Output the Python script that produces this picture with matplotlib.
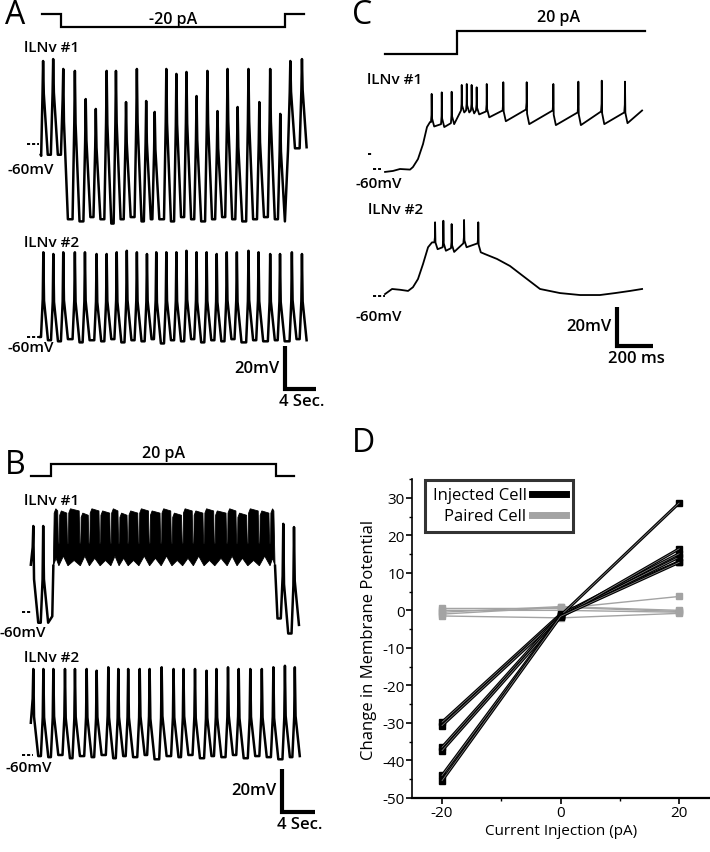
# -*- coding: utf-8 -*-
"""
Registros pareados de lLNv (A-C) y cambio de potencial vs corriente inyectada (D).
"""
import numpy as np
import matplotlib
matplotlib.use("Agg")
import matplotlib.pyplot as plt
from matplotlib.lines import Line2D
from matplotlib.ticker import MultipleLocator, FixedLocator

W, H = 710, 853
plt.rcParams['font.family'] = ['Open Sans', 'DejaVu Sans']
plt.rcParams['axes.unicode_minus'] = False

# ==============================================================================
# DATOS (s o ms, mV, pA)
# ==============================================================================
# --- A: pulso de -20 pA (s) ---
A_step_t = [0.26, 2.7, 31.6, 34.1]          # inicio, on, off, fin
A_step_amp = -20
A1_spk = [0.4, 1.7, 3.0, 4.5, 5.9, 7.2, 8.6, 9.8, 11.1, 12.5, 13.7, 14.8, 16.3,
          17.6, 18.9, 20.2, 21.6, 22.9, 24.2, 25.5, 26.9, 28.3, 29.7, 31.0, 32.3, 33.8]
A1_peak = [-21.4, -20.5, -25.1, -26.0, -39.1, -43.7, -26.0, -26.0, -40.5, -25.1,
           -40.0, -45.1, -25.1, -27.4, -26.5, -37.7, -26.0, -44.7, -25.1, -42.8,
           -25.1, -40.5, -25.1, -46.0, -21.4, -20.5]
A1_pre = [-65, -65, -65, -95, -96, -94, -95, -97, -95, -94, -96, -95, -95, -96,
          -94, -95, -96, -95, -94, -95, -96, -95, -94, -95, -63, -62]
A1_post = [-65, -65, -95, -96, -94, -95, -97, -95, -94, -96, -95, -95, -96, -94,
           -95, -96, -95, -94, -95, -96, -95, -94, -95, -96, -62, -61.5]

A2_spk = [0.43, 1.72, 3.0, 4.5, 5.8, 7.3, 8.6, 9.9, 11.2, 12.5, 13.8, 15.0, 16.3,
          17.6, 18.9, 20.2, 21.5, 22.8, 24.1, 25.4, 26.9, 28.2, 29.7, 30.97, 32.5, 33.8]
A2_peak = [-20.6, -21.4, -20.6, -20.6, -20.6, -21.4, -21.4, -20.6, -19.9, -20.6,
           -21.4, -20.6, -20.6, -20.6, -19.9, -20.6, -20.6, -21.4, -20.6, -20.6,
           -19.9, -20.6, -21.4, -21.4, -20.6, -21.4]
A2_trough = [-60, -61.5, -62, -61, -62.5, -61.5, -62, -61, -62.5, -61.5, -62, -61,
             -63, -61.5, -62, -61, -62.5, -61.5, -62, -61, -62.5, -61.5, -62,
             -61.5, -62, -61, -61.5]

# --- B: pulso de 20 pA (s) ---
B_step_t = [0.12, 2.55, 29.8, 32.0]
B_step_amp = 20
B1_spk_pre = [0.4, 1.6]
B1_peak_pre = [-20, -20]
B1_trough_pre = [-38, -65, -65]
B1_burst_on, B1_burst_off = 2.83, 29.7
B1_gaps = [3.5, 4.6, 6.1, 7.2, 8.5, 9.8, 10.8, 11.9, 13.2, 14.5, 15.9, 17.2,
           18.5, 19.8, 21.1, 22.4, 23.9, 25.1, 26.4, 27.8, 29.1]
B1_top = [-12, -13, -12, -14, -12, -13, -12, -14, -13, -12, -13, -12, -14, -12,
          -13, -12, -13, -12, -14, -12, -13, -12]
B1_floor = [-35, -34, -36, -34, -35, -36, -34, -35, -36, -34, -35, -34, -36, -35,
            -34, -36, -35, -34, -35, -36, -34, -35]
B1_spk_post = [30.7, 32.0]
B1_peak_post = [-19, -20.5]
B1_trough_post = [-63, -70, -66]

B2_spk = [0.4, 1.62, 2.83, 4.24, 5.45, 6.87, 8.08, 9.49, 10.7, 11.9, 13.3, 14.5,
          15.96, 17.4, 18.6, 20.0, 21.4, 22.6, 24.0, 25.3, 26.7, 28.1, 29.5, 30.9, 32.1]
B2_peak = [-20, -20, -20, -20, -20, -20, -20.8, -19.2, -20, -20, -20, -20, -19.2,
           -20, -20, -20, -20.8, -20, -19.2, -20, -20, -20, -19.2, -18.5, -19.2]
B2_trough = [-45, -60.5, -61, -60, -61.5, -60.5, -61, -60, -61.5, -60.5, -61, -60,
             -62, -60.5, -61, -60, -61.5, -60.5, -61, -60, -61.5, -60.5, -61, -62,
             -61, -60.5]

# --- C: pulso de 20 pA (ms) ---
C_step_t = [28, 428, 1472]
C_step_amp = 20
C1_ramp_t = [28, 72, 111, 167, 183, 211, 239, 261, 278]
C1_ramp_v = [-61.5, -61.0, -60.0, -60.3, -59.0, -54.9, -47.2, -38.5, -35.9]
C1_spk = [287, 343, 398, 454, 482, 509, 537, 593, 685, 815, 963, 1102, 1232, 1361]
C1_peak = [-21.5, -20.7, -20.4, -16.9, -16.4, -16.9, -18.1, -16.4, -15.5, -15.5,
           -16.4, -15.2, -14.7, -15.2]
C1_pre = [-36, -37, -36.5, -30, -30, -30, -30, -30.5, -30, -29.5, -30, -31, -30.5, -31]
C1_post = [-38.2, -38.5, -37, -31, -31, -31.5, -32, -33.5, -35.5, -37, -37.5,
           -37.5, -37, -36.5]
C1_end = ([1456], [-30])

C2_ramp_t = [28, 67, 111, 156, 183, 211, 239, 267, 289]
C2_ramp_v = [-59, -56.4, -56.8, -57.4, -55.5, -51.3, -43.6, -35.0, -32.5]
C2_spk = [306, 352, 398, 467, 546]
C2_peak = [-22.2, -21.4, -23.1, -21, -22.2]
C2_pre = [-32.5, -35, -35.5, -33, -33]
C2_post = [-36, -36.8, -37.4, -35, -37.6]
C2_tail_t = [583, 650, 722, 794, 889, 1000, 1111, 1222, 1306, 1389, 1456]
C2_tail_v = [-38.5, -41, -44.6, -49.7, -56.4, -58.5, -59.5, -59.5, -58.5, -57.4, -56.4]

# --- D: cambio de potencial (mV) a -20, 0 y 20 pA ---
D_current = [-20, 0, 20]
inj_m20 = [-29.8, -30.7, -36.5, -37.4, -44.0, -45.4]
inj_0 = [-1.0, -1.5, -1.2, -1.8, -1.4, -1.6]
inj_p20 = [13.0, 14.2, 15.1, 16.4, 28.6, 12.8]
par_m20 = [0.5, -0.5, -1.5, 0.0, -1.0]
par_0 = [0.5, 1.0, -2.0, 0.0, 0.8]
par_p20 = [3.7, 0.0, -0.8, -0.5, -0.3]

GRIS = '#a3a3a3'
TXT = dict(fontsize=11, fontweight='semibold')


# ==============================================================================
# FUNCIONES AUXILIARES
# ==============================================================================
fig = plt.figure(figsize=(W / 100, H / 100), dpi=100)


def px_axes(box, x_org, y_org, sx, sy, y_val=0.0):
    """Ejes invisibles colocados en pixeles; (x_org, y_org) corresponde a (0, y_val)."""
    x0, y0, x1, y1 = box
    ax = fig.add_axes([x0 / W, 1 - y1 / H, (x1 - x0) / W, (y1 - y0) / H])
    ax.set_xlim((x0 - x_org) / sx, (x1 - x_org) / sx)
    ax.set_ylim(y_val - (y1 - y_org) / sy, y_val + (y_org - y0) / sy)
    ax.axis('off')
    return ax


def ftext(x, y, s, **kw):
    fig.text(x / W, 1 - y / H, s, **kw)


def spikes(ts, peak, pre, post, rise, fall, sh):
    t, v = [], []
    for s, p, a, b in zip(ts, peak, pre, post):
        t += [s - rise, s - 0.25 * rise, s, s + 0.15 * fall, s + fall]
        v += [a, a + sh * (p - a), p, b + sh * (p - b), b]
    return t, v


def join(*parts):
    t = np.concatenate([np.asarray(p[0], float) for p in parts])
    v = np.concatenate([np.asarray(p[1], float) for p in parts])
    o = np.argsort(t, kind='stable')
    return t[o], v[o]


def step_line(ax, times, amp, label, off):
    t = [times[0], times[1], times[1]]
    i = [0, 0, amp]
    if len(times) == 4:
        t += [times[2], times[2], times[3]]
        i += [amp, 0, 0]
        mid = (times[1] + times[2]) / 2
    else:
        t += [times[2]]
        i += [amp]
        mid = (times[1] + times[2]) / 2 + 40
    ax.plot(t, i, color='k', lw=1.6, solid_joinstyle='miter', clip_on=False)
    ax.annotate(label, (mid, amp), xytext=(0, off), textcoords='offset points',
                ha='center', va='baseline', fontsize=11.5, fontweight='semibold')


def dashes(ax, t0, t1, v=-60):
    ax.plot([t0, t1], [v, v], color='k', lw=1.4, dashes=(1.6, 1.0), clip_on=False)


def scalebar(ax, t0, v0, dt, dv, xl, yl):
    ax.plot([t0, t0, t0 + dt], [v0 + dv, v0, v0], color='k', lw=3,
            solid_joinstyle='miter', solid_capstyle='butt', clip_on=False)
    ax.annotate(yl, (t0, v0 + dv / 2), xytext=(-4, 0), textcoords='offset points',
                ha='right', va='center', fontsize=12, fontweight='semibold')
    ax.annotate(xl, (t0 + dt / 2, v0), xytext=(1, -3), textcoords='offset points',
                ha='center', va='top', fontsize=12, fontweight='semibold')


def trace(ax, t, v, lw=1.8):
    ax.plot(t, v, color='k', lw=lw, solid_joinstyle='round', clip_on=False)


# ==============================================================================
# PANEL A
# ==============================================================================
axAi = px_axes((0, 0, 330, 45), 40, 15, 7.75, 0.65)
step_line(axAi, A_step_t, A_step_amp, '-20 pA', 3)

axA1 = px_axes((0, 40, 330, 235), 40, 145, 7.75, 2.15, -60)
trace(axA1, *join(([0.15], [-65.5]),
                  spikes(A1_spk, A1_peak, A1_pre, A1_post, 0.3, 0.6, 0.65)))
dashes(axA1, -1.7, -0.15)

axA2 = px_axes((0, 235, 330, 420), 40, 338, 7.75, 2.15, -60)
trace(axA2, *join(([0.0], [-60]),
                  spikes(A2_spk, A2_peak, A2_trough[:-1], A2_trough[1:], 0.3, 0.6, 0.45)))
dashes(axA2, -1.7, 0.0)
scalebar(axA2, 31.6, -84.2, 4, 20, '4 Sec.', '20mV')

ftext(5, 16, 'A', fontsize=23, va='center')
ftext(24, 48, 'lLNv #1', va='center', **TXT)
ftext(7, 170, '-60mV', va='center', **TXT)
ftext(24, 243, 'lLNv #2', va='center', **TXT)
ftext(7, 348, '-60mV', va='center', **TXT)

# ==============================================================================
# PANEL B
# ==============================================================================
axBi = px_axes((0, 440, 330, 485), 30, 477, 8.25, 0.6)
step_line(axBi, B_step_t, B_step_amp, '20 pA', 5)

axB1 = px_axes((0, 485, 330, 645), 30, 613, 8.25, 2.15, -60)
trace(axB1, *join(spikes(B1_spk_pre, B1_peak_pre, B1_trough_pre[:-1], B1_trough_pre[1:],
                         0.3, 0.6, 0.45),
                  ([2.7, B1_burst_on], [-62, -38.5])))
trace(axB1, *join(([B1_burst_off, 30.0], [-38.5, -63]),
                  spikes(B1_spk_post, B1_peak_post, B1_trough_post[:-1], B1_trough_post[1:],
                         0.3, 0.6, 0.45)))
# rafagas: banda densa de espigas entre los intervalos
edges = [B1_burst_on] + B1_gaps + [B1_burst_off]
tt, vt, tb, vb = [], [], [], []
for k in range(len(edges) - 1):
    a, b = edges[k], edges[k + 1]
    tt += [a + 0.1, a + 0.3, b - 0.14]
    vt += [B1_top[k] - 2, B1_top[k], B1_top[k] - 1]
    if k < len(edges) - 2:
        tt += [b - 0.06, b + 0.06]
        vt += [-28, -28]
    tb += [a, (a + b) / 2]
    vb += [-38.5, B1_floor[k]]
tb += [edges[-1]]
vb += [-38.5]
axB1.fill(tt + tb[::-1], vt + vb[::-1], color='k', lw=0.6, clip_on=False)
dashes(axB1, -0.97, 0.2)

axB2 = px_axes((0, 645, 330, 853), 30, 756, 8.25, 2.15, -60)
trace(axB2, *spikes(B2_spk, B2_peak, B2_trough[:-1], B2_trough[1:], 0.3, 0.6, 0.45))
dashes(axB2, -0.97, 0.4)
scalebar(axB2, 30.5, -86.5, 4, 20, '4 Sec.', '20mV')

ftext(5, 466, 'B', fontsize=23, va='center')
ftext(24, 501, 'lLNv #1', va='center', **TXT)
ftext(0, 633, '-60mV', va='center', **TXT)
ftext(24, 658, 'lLNv #2', va='center', **TXT)
ftext(5, 768, '-60mV', va='center', **TXT)

# ==============================================================================
# PANEL C
# ==============================================================================
axCi = px_axes((340, 0, 710, 60), 380, 55, 0.18, 1.15)
step_line(axCi, C_step_t, C_step_amp, '20 pA', 7)

axC1 = px_axes((340, 60, 710, 200), 380, 170, 0.18, 1.95, -60)
trace(axC1, *join((C1_ramp_t, C1_ramp_v),
                  spikes(C1_spk, C1_peak, C1_pre, C1_post, 4, 14, 0.25), C1_end), lw=1.3)
dashes(axC1, -67, -45, -52.3)
dashes(axC1, -39, 5)

axC2 = px_axes((340, 200, 710, 420), 380, 297, 0.18, 1.95, -60)
trace(axC2, *join((C2_ramp_t, C2_ramp_v),
                  spikes(C2_spk, C2_peak, C2_pre, C2_post, 4, 14, 0.25),
                  (C2_tail_t, C2_tail_v)), lw=1.3)
dashes(axC2, -39, 25)
scalebar(axC2, 1317, -85.6, 200, 20, '200 ms', '20mV')

ftext(352, 16, 'C', fontsize=23, va='center')
ftext(367, 80, 'lLNv #1', va='center', **TXT)
ftext(355, 184, '-60mV', va='center', **TXT)
ftext(368, 210, 'lLNv #2', va='center', **TXT)
ftext(355, 317, '-60mV', va='center', **TXT)

# ==============================================================================
# PANEL D
# ==============================================================================
axD = fig.add_axes([412 / W, 1 - 799 / H, (710 - 412) / W, (799 - 480) / H])
for a, b, c in zip(par_m20, par_0, par_p20):
    axD.plot(D_current, [a, b, c], color=GRIS, lw=1.0, marker='s', ms=5,
             mfc=GRIS, mec=GRIS, clip_on=False)
for a, b, c in zip(inj_m20, inj_0, inj_p20):
    axD.plot(D_current, [a, b, c], color='k', lw=2.2, marker='s', ms=5,
             mfc='k', mec='k', clip_on=False)
    axD.plot(D_current, [a, b, c], color='#8c8c8c', lw=0.5)

axD.set_xlim(-25.06, 25.2)
axD.set_ylim(-50, 35)
axD.xaxis.set_major_locator(FixedLocator([-20, 0, 20]))
axD.xaxis.set_minor_locator(FixedLocator([-10, 10]))
axD.yaxis.set_major_locator(FixedLocator(list(range(-50, 31, 10))))
axD.yaxis.set_minor_locator(MultipleLocator(5))
for s in ['top', 'right']:
    axD.spines[s].set_visible(False)
axD.spines['left'].set_linewidth(1.2)
axD.spines['bottom'].set_linewidth(1.6)
axD.tick_params(which='major', direction='out', length=4, width=1.2, labelsize=11, pad=1)
axD.tick_params(which='minor', direction='out', length=2.5, width=1.0)
axD.set_ylabel('Change in Membrane Potential', fontsize=12, labelpad=4)
axD.set_xlabel('Current Injection (pA)', fontsize=11, labelpad=2)

handles = [Line2D([], [], color='k', lw=5), Line2D([], [], color=GRIS, lw=5)]
leg = axD.legend(handles, ['Injected Cell', 'Paired Cell'], loc='upper left',
                 bbox_to_anchor=(0.044, 0.997), markerfirst=False, fontsize=12,
                 handlelength=2.0, handletextpad=0.35, borderpad=0.45,
                 labelspacing=0.3, borderaxespad=0, fancybox=False)
leg.get_frame().set_edgecolor('k')
leg.get_frame().set_linewidth(2.2)

ftext(352, 444, 'D', fontsize=23, va='center')

fig.savefig('out.png', dpi=100)
